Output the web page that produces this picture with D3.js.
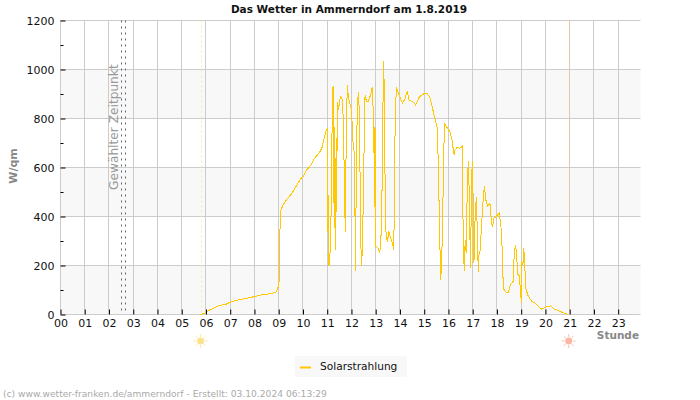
<!DOCTYPE html>
<html>
<head>
<meta charset="utf-8">
<script src="https://cdnjs.cloudflare.com/ajax/libs/d3/7.8.5/d3.min.js"></script>
<style>
  html, body { margin: 0; padding: 0; background: #fff; }
  svg { display: block; font-family: "DejaVu Sans", sans-serif; }
</style>
</head>
<body>
<svg id="chart"></svg>
<script>
const hourLabels = ["00","01","02","03","04","05","06","07","08","09","10","11","12","13","14","15","16","17","18","19","20","21","22","23"];
const yTicks = [0, 200, 400, 600, 800, 1000, 1200];
const yMinorTicks = [100, 300, 500, 700, 900, 1100];
const bands = [[800, 1000], [400, 600], [0, 200]];

const sunrise = 5.82;
const sunset = 21;
const selectedTime = [2.52, 2.68];

// hour of day / W per qm
const hours = [
  5.75, 5.97, 6.0, 6.18, 6.36, 6.57, 6.78, 7.0, 7.27, 7.47, 7.75, 8.0, 8.3, 8.65, 8.9, 8.96, 9.0, 9.04, 9.05, 9.08, 9.09,
  9.18, 9.34, 9.55, 9.75, 9.92, 10.0, 10.14, 10.34, 10.48, 10.68, 10.79, 10.89, 10.96, 11.0, 11.01, 11.02, 11.04, 11.06,
  11.07, 11.11, 11.16, 11.2, 11.24, 11.245, 11.28, 11.33, 11.37, 11.385, 11.42, 11.45, 11.49, 11.54, 11.63, 11.68, 11.71,
  11.75, 11.76, 11.79, 11.83, 11.87, 11.93, 12.0, 12.08, 12.13, 12.16, 12.18, 12.21, 12.25, 12.3, 12.34, 12.37, 12.41,
  12.44, 12.48, 12.53, 12.56, 12.62, 12.68, 12.79, 12.86, 12.92, 12.95, 12.97, 13.01, 13.08, 13.16, 13.21, 13.26, 13.3,
  13.33, 13.36, 13.39, 13.43, 13.49, 13.54, 13.6, 13.69, 13.75, 13.76, 13.8, 13.85, 13.96, 14.1, 14.2, 14.3, 14.38, 14.52,
  14.65, 14.8, 15.0, 15.12, 15.22, 15.3, 15.44, 15.54, 15.56, 15.58, 15.6, 15.62, 15.65, 15.66, 15.7, 15.72, 15.76, 15.8,
  15.84, 15.92, 16.06, 16.16, 16.2, 16.24, 16.27, 16.36, 16.47, 16.57, 16.58, 16.61, 16.65, 16.69, 16.73, 16.78, 16.82,
  16.85, 16.89, 16.91, 16.95, 16.98, 17.02, 17.05, 17.08, 17.1, 17.15, 17.17, 17.2, 17.23, 17.26, 17.31, 17.37, 17.44,
  17.48, 17.54, 17.62, 17.71, 17.77, 17.81, 17.88, 17.99, 18.1, 18.17, 18.21, 18.24, 18.29, 18.37, 18.47, 18.56, 18.67,
  18.71, 18.76, 18.81, 18.85, 18.92, 18.99, 19.0, 19.03, 19.07, 19.1, 19.14, 19.18, 19.29, 19.43, 19.57, 19.7, 19.84,
  19.94, 20.12, 20.22, 20.35, 20.53, 20.74, 20.92, 20.95
];
const solar = [
  0, 6, 10, 20, 27, 38, 40, 50, 58, 62, 68, 73, 80, 85, 92, 110, 108, 197, 349, 350, 425,
  448, 471, 495, 529, 556, 560, 588, 611, 638, 661, 683, 726, 753, 756, 335, 615, 415, 335,
  197, 230, 415, 760, 932, 455, 765, 265, 720, 420, 868, 835, 855, 889, 878, 740, 475,
  335, 480, 785, 936, 888, 862, 835, 672, 665, 176, 345, 690, 871, 909, 725, 372, 197,
  250, 420, 740, 896, 868, 868, 896, 930, 765, 440, 765, 278, 275, 254, 285, 509, 862,
  1035, 852, 495, 312, 301, 339, 318, 292, 265, 430, 767, 930, 896, 864, 878, 913, 873, 870,
  855, 889, 902, 902, 889, 860, 800, 759, 730, 570, 570, 370, 285, 142, 170, 217, 380, 644,
  782, 766, 746, 705, 671, 651, 671, 682, 678, 687, 556, 305, 176, 305, 251, 536, 626,
  522, 298, 190, 515, 626, 467, 210, 305, 407, 481, 407, 305, 172, 244, 264, 373, 481,
  525, 468, 441, 454, 386, 357, 393, 403, 414, 353, 278, 163, 102, 91, 91, 122, 136,
  244, 285, 251, 163, 160, 75, 47, 217, 197, 271, 230, 108, 75, 54, 47, 34, 22,
  27, 34, 35, 23, 16, 7, 1, 0
];

const width = 700, height = 400;
const margin = { top: 20.5, right: 59.5, bottom: 85.5, left: 60.5 };

const svg = d3.select("#chart").attr("width", width).attr("height", height);

const x = d3.scaleLinear().domain([0, 23.92]).range([margin.left, width - margin.right]);
const y = d3.scaleLinear().domain([0, 1200]).range([height - margin.bottom, margin.top]);

// background bands
svg.selectAll("rect.band").data(bands).enter().append("rect")
  .attr("class", "band")
  .attr("x", x.range()[0])
  .attr("width", x.range()[1] - x.range()[0])
  .attr("y", d => y(d[1]))
  .attr("height", d => y(d[0]) - y(d[1]))
  .attr("fill", "#f8f8f8");

// grid
svg.selectAll("line.hgrid").data(yTicks).enter().append("line")
  .attr("x1", x.range()[0]).attr("x2", x.range()[1])
  .attr("y1", d => Math.round(y(d) - 0.5) + 0.5).attr("y2", d => Math.round(y(d) - 0.5) + 0.5)
  .attr("stroke", "#ccc");
svg.selectAll("line.vgrid").data(hourLabels).enter().append("line")
  .attr("x1", (d, i) => Math.round(x(i) - 0.5) + 0.5).attr("x2", (d, i) => Math.round(x(i) - 0.5) + 0.5)
  .attr("y1", y.range()[1]).attr("y2", y.range()[0])
  .attr("stroke", "#ccc");

// sunrise, sunset, selected time
[[sunrise, "#f3ef9c", "2,3"], [sunset, "#f8c08f", "2,1"]].forEach(([h, c, dash]) => {
  svg.append("line")
    .attr("x1", Math.round(x(h) - 0.5) + 0.5).attr("x2", Math.round(x(h) - 0.5) + 0.5)
    .attr("y1", y.range()[1]).attr("y2", y.range()[0])
    .attr("stroke", c).attr("stroke-dasharray", dash);
});
selectedTime.forEach(h => {
  svg.append("line")
    .attr("x1", Math.round(x(h) - 0.5) + 0.5).attr("x2", Math.round(x(h) - 0.5) + 0.5)
    .attr("y1", y.range()[1]).attr("y2", y.range()[0])
    .attr("stroke", "#666").attr("stroke-dasharray", "2,4");
});
svg.append("text")
  .attr("transform", `translate(118,190) rotate(-90)`)
  .attr("font-size", 12.2).attr("fill", "#999")
  .text("Gewählter Zeitpunkt");

// solar line
const line = d3.line().x((d, i) => x(hours[i])).y(d => y(d));
svg.append("path")
  .attr("d", line(solar))
  .attr("fill", "none")
  .attr("stroke", "#ffc800")
  .attr("stroke-width", 1)
  .attr("shape-rendering", "crispEdges");

// axes
const xAxis = d3.axisBottom(x)
  .tickValues(d3.range(hourLabels.length))
  .tickFormat(i => hourLabels[i])
  .tickSize(-5).tickPadding(5);
const gx = svg.append("g").attr("transform", `translate(0,${y(0)})`).call(xAxis);
gx.select(".domain").remove();
gx.selectAll("line").attr("stroke", "#000");
gx.selectAll("text").attr("font-size", 11).attr("fill", "#111").attr("font-family", "DejaVu Sans");

const yAxis = d3.axisLeft(y).tickValues(yTicks).tickFormat(d3.format("d")).tickSize(-5).tickPadding(6);
const gy = svg.append("g").attr("transform", `translate(${margin.left},0)`).call(yAxis);
gy.select(".domain").remove();
gy.selectAll("line").attr("stroke", "#000");
gy.selectAll("text").attr("font-size", 11).attr("fill", "#111").attr("font-family", "DejaVu Sans");

svg.selectAll("line.minor").data(yMinorTicks).enter().append("line")
  .attr("x1", margin.left).attr("x2", margin.left + 3)
  .attr("y1", d => Math.round(y(d)) + 0.5).attr("y2", d => Math.round(y(d)) + 0.5)
  .attr("stroke", "#000");

// titles
svg.append("text").attr("x", 349).attr("y", 13)
  .attr("text-anchor", "middle").attr("font-size", 10.5).attr("font-weight", "bold").attr("fill", "#111")
  .text("Das Wetter in Ammerndorf am 1.8.2019");
svg.append("text")
  .attr("transform", "translate(17,166) rotate(-90)")
  .attr("text-anchor", "middle").attr("font-size", 11).attr("font-weight", "bold").attr("fill", "#888")
  .text("W/qm");
svg.append("text").attr("x", 639).attr("y", 339)
  .attr("text-anchor", "end").attr("font-size", 10.5).attr("font-weight", "bold").attr("fill", "#888")
  .text("Stunde");

// sun icons below the axis
function sun(h, c) {
  const g = svg.append("g").attr("transform", `translate(${x(h) - 1},341)`);
  g.selectAll("line").data(d3.range(8)).enter().append("line")
    .attr("x1", d => 4 * Math.cos(d * Math.PI / 4)).attr("y1", d => 4 * Math.sin(d * Math.PI / 4))
    .attr("x2", d => 7 * Math.cos(d * Math.PI / 4)).attr("y2", d => 7 * Math.sin(d * Math.PI / 4))
    .attr("stroke", c).attr("stroke-opacity", 0.8);
  g.append("circle").attr("r", 3.4).attr("fill", c);
}
sun(sunrise, "#fbe28f");
sun(sunset, "#fbb5a2");

// legend
svg.append("rect").attr("x", 295).attr("y", 356).attr("width", 112).attr("height", 21).attr("fill", "#f8f8f8");
svg.append("line").attr("x1", 300).attr("x2", 311).attr("y1", 367.5).attr("y2", 367.5)
  .attr("stroke", "#ffc800").attr("stroke-width", 2);
svg.append("text").attr("x", 320).attr("y", 370).attr("font-size", 10.6).attr("fill", "#111").text("Solarstrahlung");

svg.append("text").attr("x", 3).attr("y", 397).attr("font-size", 9.15).attr("fill", "#aaa")
  .text("(c) www.wetter-franken.de/ammerndorf - Erstellt: 03.10.2024 06:13:29");
</script>
</body>
</html>
